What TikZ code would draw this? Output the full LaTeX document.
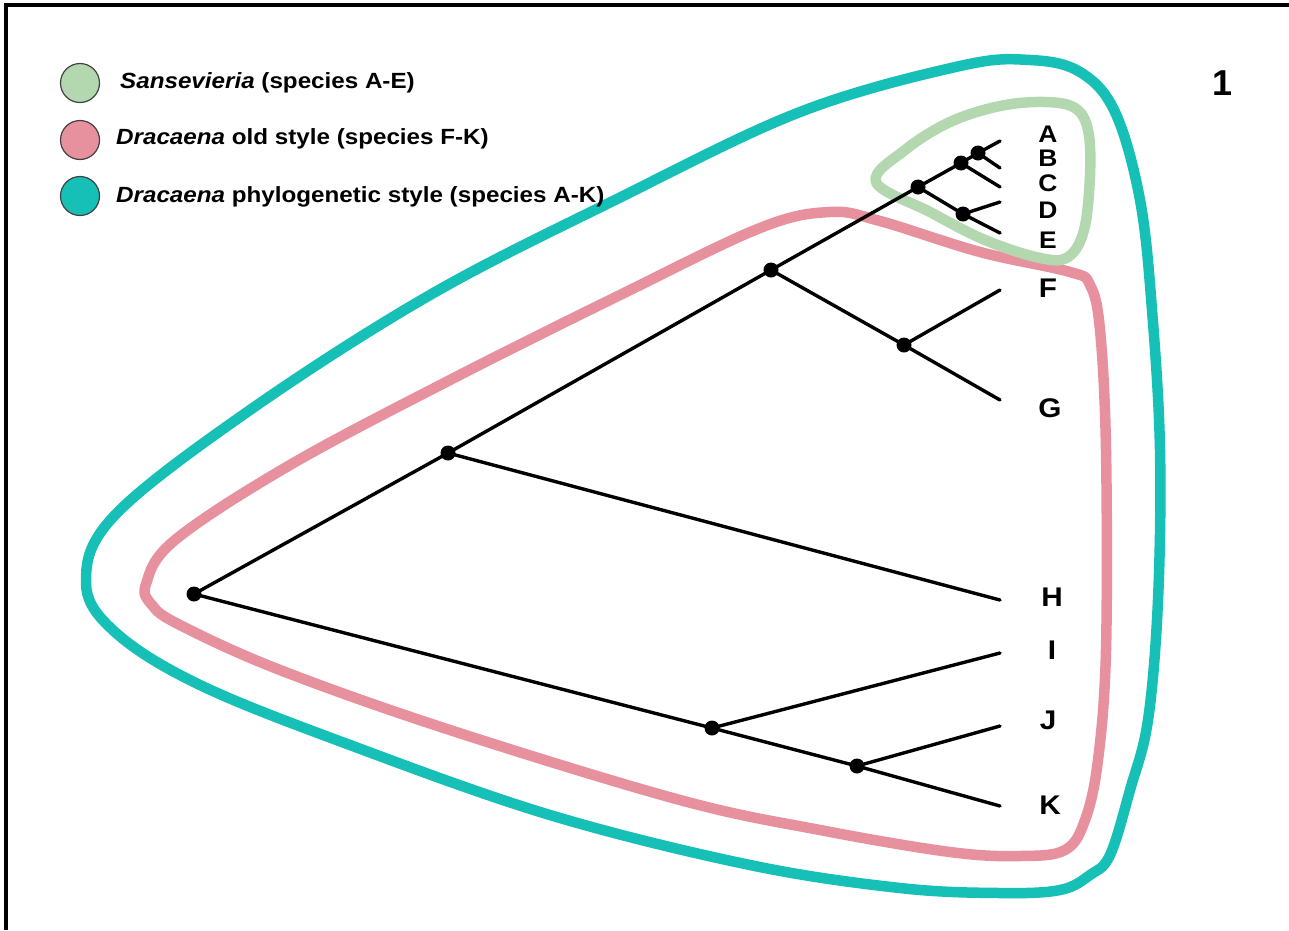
\documentclass[tikz,border=0pt]{standalone}
\usepackage{fontspec}
\setmainfont{Liberation Sans}
\newfontfamily\legfont[FakeStretch=1.1]{Liberation Sans}
\definecolor{sgreen}{HTML}{B3D8B0}
\definecolor{spink}{HTML}{E8919E}
\definecolor{steal}{HTML}{17C0B6}
\begin{document}
\begin{tikzpicture}[x=1pt,y=-1pt,
  branch/.style={line width=3.4pt, line cap=round},
  dot/.style={circle, fill=black, inner sep=0pt, minimum size=15pt},
  lab/.style={font=\legfont\fontsize{27}{27}\selectfont\bfseries, inner sep=0pt},
  slab/.style={font=\legfont\fontsize{24}{24}\selectfont\bfseries, inner sep=0pt},
  legdot/.style={circle, draw=black!75, line width=1.2pt, minimum size=39pt, inner sep=0pt},
  legtext/.style={anchor=west, inner sep=0pt, font=\legfont\fontsize{22}{22}\selectfont\bfseries},
  blob/.style={line width=10.5pt, line join=round}]
\useasboundingbox (0,0) rectangle (1289,930);
\fill[white] (0,0) rectangle (1289,930);
% frame
\draw[line width=4pt] (6,930) -- (6,5) -- (1289,5);

% outlines
\draw[blob, steal] plot[smooth cycle, tension=0.6] coordinates {
 (86,582) (115,515) (250,410) (430,295) (615,200) (800,112)
 (960,66) (1030,60) (1080,72) (1115,112) (1140,200) (1152,310)
 (1160,450) (1158,600) (1148,720) (1130,790) (1110,855) (1090,875) (1060,890)
 (1000,893) (900,888) (750,865) (550,815) (350,745) (200,685) (115,632)};
\draw[blob, spink] plot[smooth cycle, tension=0.6] coordinates {
 (146,584) (175,540) (290,465) (450,380) (620,295) (760,228) (830,212)
 (880,221) (980,252) (1070,272) (1090,285) (1100,330) (1106,450) (1106,650)
 (1098,760) (1085,820) (1065,850) (1020,856) (950,852) (820,830) (680,800)
 (450,730) (280,670) (180,625) (152,605)};
\draw[blob, sgreen] plot[smooth cycle, tension=0.6] coordinates {
 (876,182) (905,150) (950,122) (1000,106) (1045,102) (1075,108) (1088,130)
 (1090,175) (1084,230) (1068,257) (1040,258) (985,240) (930,212)};

% legend
\node[legdot, fill=sgreen] (l1) at (80,83) {};
\node[legdot, fill=spink] (l2) at (80,140) {};
\node[legdot, fill=steal] (l3) at (80,196) {};
\node[legtext] (t1) at (120,83) {\textit{Sansevieria} (species A-E)};
\node[legtext] (t2) at (116,139) {\textit{Dracaena} old style (species F-K)};
\node[legtext] (t3) at (116,197) {\textit{Dracaena} phylogenetic style (species A-K)};
\node[font=\fontsize{36}{36}\selectfont\bfseries, inner sep=0pt] (num) at (1222,83) {1};

% tree tips
\coordinate (tA) at (1000,141);
\coordinate (tB) at (1000,168);
\coordinate (tC) at (1000,187);
\coordinate (tD) at (1000,202);
\coordinate (tE) at (1000,233);
\coordinate (tF) at (1000,290);
\coordinate (tG) at (1000,400);
\coordinate (tH) at (1000,600);
\coordinate (tI) at (1000,653);
\coordinate (tJ) at (1000,726);
\coordinate (tK) at (1000,806);

% internal nodes
\coordinate (R) at (194,594);
\coordinate (N1) at (448,453);
\coordinate (N2) at (771,270);
\coordinate (N3) at (904,345);
\coordinate (N4) at (918,187);
\coordinate (N5) at (961,163);
\coordinate (N6) at (978,153);
\coordinate (N7) at (963,214);
\coordinate (N8) at (712,728);
\coordinate (N9) at (857,766);

\draw[branch] (R) -- (N1) -- (N2) -- (N4) -- (N5) -- (N6) -- (tA);
\draw[branch] (N6) -- (tB);
\draw[branch] (N5) -- (tC);
\draw[branch] (N4) -- (N7) -- (tD);
\draw[branch] (N7) -- (tE);
\draw[branch] (N2) -- (N3) -- (tF);
\draw[branch] (N3) -- (tG);
\draw[branch] (N1) -- (tH);
\draw[branch] (R) -- (N8) -- (tI);
\draw[branch] (N8) -- (N9) -- (tJ);
\draw[branch] (N9) -- (tK);

\foreach \n in {R,N1,N2,N3,N4,N5,N6,N7,N8,N9}
  \node[dot] (d\n) at (\n) {};

% labels
\node[slab] (lA) at (1048,134) {A};
\node[slab] (lB) at (1048,158) {B};
\node[slab] (lC) at (1048,183) {C};
\node[slab] (lD) at (1048,210) {D};
\node[slab] (lE) at (1048,240) {E};
\node[lab] (lF) at (1048,288) {F};
\node[lab] (lG) at (1050,408) {G};
\node[lab] (lH) at (1052,597) {H};
\node[lab] (lI) at (1052,650) {I};
\node[lab] (lJ) at (1048,720) {J};
\node[lab] (lK) at (1050,805) {K};
\end{tikzpicture}
\end{document}
